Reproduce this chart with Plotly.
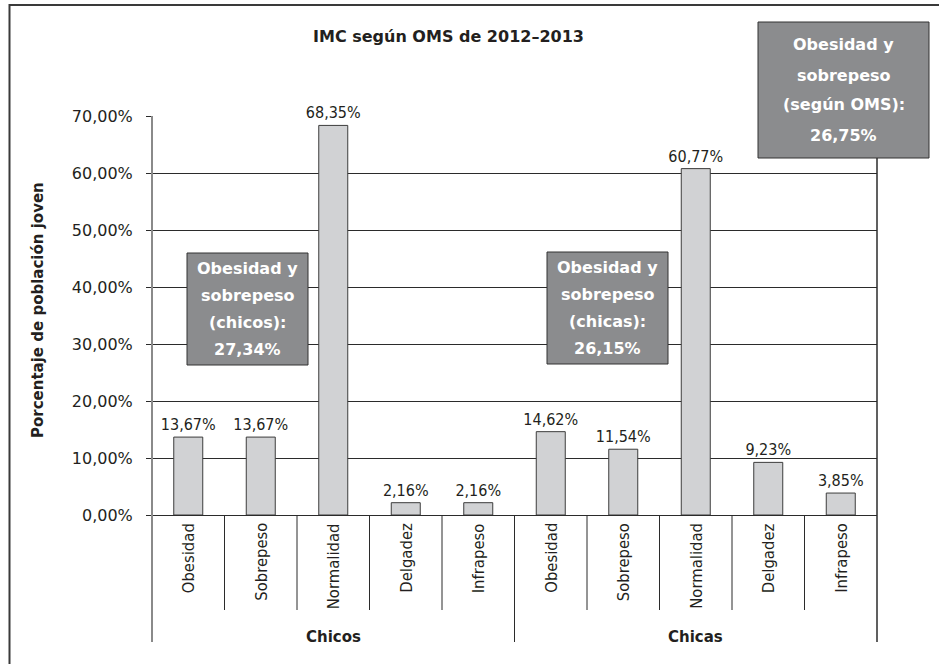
import plotly.graph_objects as go

# ---- data -------------------------------------------------------------
categories = ["Obesidad", "Sobrepeso", "Normalidad", "Delgadez", "Infrapeso"]
groups = ["Chicos", "Chicas"]
chicos = [13.67, 13.67, 68.35, 2.16, 2.16]
chicas = [14.62, 11.54, 60.77, 9.23, 3.85]
y_ticks = [0, 10, 20, 30, 40, 50, 60, 70]

summary_labels = [
    ["Obesidad y", "sobrepeso", "(chicos):"],
    ["Obesidad y", "sobrepeso", "(chicas):"],
    ["Obesidad y", "sobrepeso", "(según OMS):"],
]
summary_values = [27.34, 26.15, 26.75]

title_text = "IMC según OMS de 2012–2013"
y_title = "Porcentaje de población joven"


def pct(v):
    """Spanish-style percentage with two decimals."""
    return f"{v:.2f}".replace(".", ",") + "%"


# ---- page geometry (pixels) ------------------------------------------
W, H = 939, 664
ML, MR, MT, MB = 152, 62, 116, 149
PW, PH = W - ML - MR, H - MT - MB


def px(x):
    return (x - ML) / PW


def py(y):
    return (H - MB - y) / PH


values = chicos + chicas
n = len(values)
xpos = list(range(n))

DARK = "#2b2b2b"
TXT = "#231f20"
NARROW = "Liberation Sans Narrow, DejaVu Sans Condensed, Arial Narrow, sans-serif"
SANS = "DejaVu Sans, sans-serif"

fig = go.Figure()
fig.add_trace(go.Bar(
    x=xpos, y=values, width=0.4,
    marker=dict(color="#d1d2d4", line=dict(color="#3c3c3c", width=1)),
    text=[pct(v) for v in values], texttemplate="%{text}", textposition="outside",
    textfont=dict(family=NARROW, size=16, color=TXT),
    constraintext="none", cliponaxis=False, hoverinfo="skip",
))

shapes = []
# outer frame
shapes.append(dict(type="rect", xref="paper", yref="paper",
                   x0=px(9.5), x1=px(950), y0=py(680), y1=py(5),
                   line=dict(color="#3a3a3a", width=2), layer="below"))
# left axis line and right border, extended under the category labels
shapes.append(dict(type="line", xref="paper", yref="paper",
                   x0=0, x1=0, y0=py(642), y1=1,
                   line=dict(color="#8a8a8a", width=2)))
shapes.append(dict(type="line", xref="paper", yref="paper",
                   x0=1, x1=1, y0=py(642), y1=1,
                   line=dict(color=DARK, width=1.5)))
# separators between categories / groups
per_group = len(categories)
for k in range(1, n):
    bottom = 642 if k % per_group == 0 else 610
    shapes.append(dict(type="line", xref="x", yref="paper",
                       x0=k - 0.5, x1=k - 0.5, y0=py(bottom), y1=0,
                       line=dict(color=DARK, width=1)))

# summary boxes
boxes = [(187, 308, 253, 365, 27), (547, 668, 252, 364, 27), (758, 929, 22, 158, 30)]
annotations = []
for (x0, x1, y0, y1, step), lines, val in zip(boxes, summary_labels, summary_values):
    shapes.append(dict(type="rect", xref="paper", yref="paper",
                       x0=px(x0), x1=px(x1), y0=py(y1), y1=py(y0),
                       fillcolor="#8b8c8e", line=dict(color="#333333", width=1),
                       layer="above"))
    all_lines = lines + [pct(val)]
    cy = (y0 + y1) / 2
    m = len(all_lines)
    for i, t in enumerate(all_lines):
        ly = cy + (i - (m - 1) / 2) * step
        annotations.append(dict(xref="paper", yref="paper", x=px((x0 + x1) / 2), y=py(ly),
                                text=f"<b>{t}</b>", showarrow=False,
                                xanchor="center", yanchor="middle",
                                font=dict(family=SANS, size=16, color="#ffffff")))

# category labels (rotated) and group labels
for i, v in enumerate(xpos):
    annotations.append(dict(xref="x", yref="paper", x=v, y=0, yshift=-6,
                            text=categories[i % per_group], textangle=-90,
                            showarrow=False, xanchor="center", yanchor="top",
                            font=dict(family=NARROW, size=16.5, color=TXT)))
for g, name in enumerate(groups):
    annotations.append(dict(xref="x", yref="paper", x=g * per_group + (per_group - 1) / 2,
                            y=0, yshift=-(637 - (H - MB)), text=f"<b>{name}</b>",
                            showarrow=False, xanchor="center", yanchor="middle",
                            font=dict(family=SANS, size=15, color=TXT)))

# title and y-axis title
annotations.append(dict(xref="paper", yref="paper", x=px(448), y=py(37),
                        text=f"<b>{title_text}</b>", showarrow=False,
                        xanchor="center", yanchor="middle",
                        font=dict(family=SANS, size=16, color=TXT)))
annotations.append(dict(xref="paper", yref="paper", x=px(38), y=py(310),
                        text=f"<b>{y_title}</b>", textangle=-90, showarrow=False,
                        xanchor="center", yanchor="middle",
                        font=dict(family=SANS, size=15, color=TXT)))

fig.update_layout(
    width=W, height=H,
    margin=dict(l=ML, r=MR, t=MT, b=MB, pad=0),
    paper_bgcolor="white", plot_bgcolor="white",
    showlegend=False,
    shapes=shapes, annotations=annotations,
    xaxis=dict(range=[-0.5, n - 0.5], showticklabels=False, showgrid=False,
               zeroline=False, showline=False, ticks=""),
    yaxis=dict(range=[0, 70], tickvals=y_ticks, ticktext=[pct(v) for v in y_ticks],
               showgrid=True, gridcolor=DARK, gridwidth=1,
               zeroline=True, zerolinecolor=DARK, zerolinewidth=1,
               showline=False, ticks="outside", ticklen=5, tickcolor=DARK,
               ticklabelstandoff=10,
               tickfont=dict(family=SANS, size=16, color=TXT)),
)

fig.write_html("out.html")
